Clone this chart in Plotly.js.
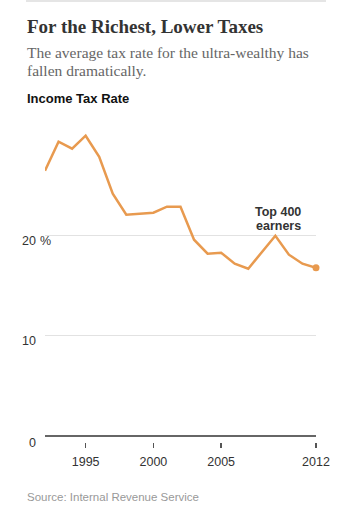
<!DOCTYPE html>
<html>
<head>
<meta charset="utf-8">
<script src="https://cdn.plot.ly/plotly-3.0.1.min.js"></script>
<style>
html,body{margin:0;padding:0;background:#fff;}
#chart{width:355px;height:515px;}
</style>
</head>
<body>
<div id="chart"></div>
<script>
// Data: average income tax rate of the top 400 earners (%)
var years = [1992,1993,1994,1995,1996,1997,1998,1999,2000,2001,2002,2003,2004,2005,2006,2007,2008,2009,2010,2011,2012];
var rates = [26.5,29.4,28.7,30.0,27.9,24.2,22.1,22.2,22.3,22.9,22.9,19.6,18.2,18.3,17.2,16.7,18.3,20.0,18.1,17.2,16.8];
var yTickVals = [0,10,20];
var yTickText = ["0","10","20"];
var xTickVals = [1995,2000,2005,2012];
var xTickText = ["1995","2000","2005","2012"];

var W = 355, H = 515;
var mL = 45, mR = 39, mT = 120, mB = 73;
var pw = W - mL - mR, ph = H - mT - mB;
function px(x){ return (x - mL) / pw; }
function py(y){ return (H - mB - y) / ph; }

var lineColor = '#e89a4f';
var sans = 'Liberation Sans, Arial, sans-serif';
var serif = 'Liberation Serif, Times New Roman, serif';

var traces = [
  {x: years, y: rates, type: 'scatter', mode: 'lines', cliponaxis: false,
   line: {color: lineColor, width: 2.5}, hoverinfo: 'skip'},
  {x: [years[years.length-1]], y: [rates[rates.length-1]], type: 'scatter', mode: 'markers',
   cliponaxis: false, marker: {color: lineColor, size: 7}, hoverinfo: 'skip'}
];

var annotations = [
  {text: '<b>For the Richest, Lower Taxes</b>', xref: 'paper', yref: 'paper',
   x: px(25), y: py(27), xanchor: 'left', yanchor: 'middle', showarrow: false,
   font: {family: serif, size: 19, color: '#333'}},
  {text: 'The average tax rate for the ultra-wealthy has', xref: 'paper', yref: 'paper',
   x: px(25), y: py(52), xanchor: 'left', yanchor: 'middle', showarrow: false,
   font: {family: serif, size: 15.5, color: '#666'}},
  {text: 'fallen dramatically.', xref: 'paper', yref: 'paper',
   x: px(25), y: py(70), xanchor: 'left', yanchor: 'middle', showarrow: false,
   font: {family: serif, size: 15.5, color: '#666'}},
  {text: '<b>Income Tax Rate</b>', xref: 'paper', yref: 'paper',
   x: px(25), y: py(98), xanchor: 'left', yanchor: 'middle', showarrow: false,
   font: {family: sans, size: 13, color: '#111'}},
  {text: '<b>Top 400</b>', xref: 'x', yref: 'paper',
   x: 2009.2, y: py(211.5), xanchor: 'center', yanchor: 'middle', showarrow: false,
   font: {family: sans, size: 12.5, color: '#333'}},
  {text: '<b>earners</b>', xref: 'x', yref: 'paper',
   x: 2009.2, y: py(225.5), xanchor: 'center', yanchor: 'middle', showarrow: false,
   font: {family: sans, size: 12.5, color: '#333'}},
  {text: 'Source: Internal Revenue Service', xref: 'paper', yref: 'paper',
   x: px(25), y: py(497.5), xanchor: 'left', yanchor: 'middle', showarrow: false,
   font: {family: sans, size: 11.5, color: '#999'}}
];
// y tick labels, drawn from the tick arrays
for (var i = 0; i < yTickVals.length; i++) {
  annotations.push({text: yTickText[i], xref: 'paper', yref: 'y',
    x: px(37.5), y: yTickVals[i], xanchor: 'right', yanchor: 'middle',
    yshift: (yTickVals[i] === 0 ? -7.5 : -5), showarrow: false,
    font: {family: sans, size: 12.5, color: '#333'}});
}
annotations.push({text: '%', xref: 'paper', yref: 'y',
  x: px(38), y: yTickVals[yTickVals.length-1], xanchor: 'left', yanchor: 'middle', yshift: -5, showarrow: false,
  font: {family: sans, size: 12.5, color: '#333'}});

var layout = {
  width: W, height: H,
  margin: {l: mL, r: mR, t: mT, b: mB, pad: 0},
  paper_bgcolor: '#fff', plot_bgcolor: '#fff',
  showlegend: false,
  xaxis: {range: [1992, 2012], tickvals: xTickVals, ticktext: xTickText,
    ticks: 'outside', ticklen: 4.5, tickwidth: 1.5, tickcolor: '#555',
    showgrid: false, zeroline: false, showline: false, ticklabelstandoff: 3,
    tickfont: {family: sans, size: 12.5, color: '#333'}, fixedrange: true},
  yaxis: {range: [-0.63, 31.57], tickvals: [10, 20], showticklabels: false,
    showgrid: true, gridcolor: '#e2e2e2', gridwidth: 1.2,
    zeroline: true, zerolinecolor: '#666', zerolinewidth: 2,
    showline: false, ticks: '', fixedrange: true},
  shapes: [
    {type: 'line', xref: 'paper', yref: 'paper', x0: px(26), x1: px(326), y0: py(1), y1: py(1),
     line: {color: '#ddd', width: 1.5}}
  ],
  annotations: annotations
};

Plotly.newPlot('chart', traces, layout, {displayModeBar: false, staticPlot: true});
</script>
</body>
</html>
